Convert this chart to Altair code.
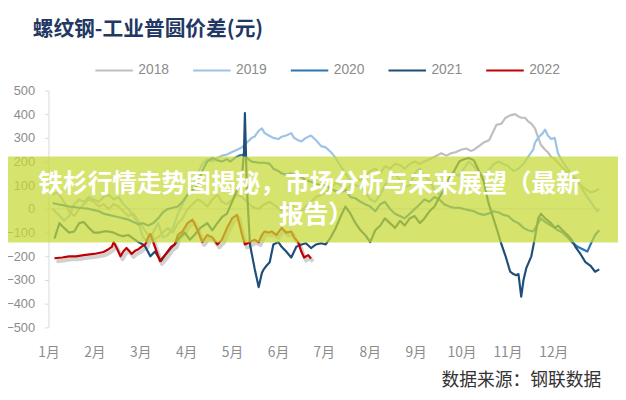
import json
import altair as alt
import pandas as pd

# ---- data (x = months elapsed since 1 Jan, y = spread in 元) ----
years = ["2018", "2019", "2020", "2021", "2022"]
colors = ["#bfbfbf", "#9dc3e6", "#2e75b6", "#1f4e79", "#c00000"]
widths = [2.2, 2.2, 2.5, 2.8, 3.6]
month_labels = ["1月", "2月", "3月", "4月", "5月", "6月", "7月", "8月", "9月", "10月", "11月", "12月"]
y_ticks = [500, 400, 300, 200, 100, 0, -100, -200, -300, -400, -500]

x_2018 = [0.09, 0.2, 0.34, 0.45, 0.56, 0.67, 0.77, 0.88, 0.99, 1.1, 1.2, 1.31, 1.42, 1.53, 1.63, 1.74, 1.85, 1.96,
          2.06, 2.17, 2.28, 2.39, 2.49, 2.6, 2.71, 2.82, 2.92, 3.03, 3.14, 3.25, 3.35, 3.46, 3.57, 3.68, 3.78, 3.89,
          4.0, 4.11, 4.22, 4.32, 4.43, 4.58, 4.71, 4.82, 4.97, 5.08, 5.18, 5.29, 5.4, 5.51, 5.61, 5.72, 5.83, 5.94,
          6.04, 6.15, 6.26, 6.37, 6.47, 6.58, 6.69, 6.8, 6.9, 7.01, 7.12, 7.23, 7.33, 7.44, 7.55, 7.66, 7.76, 7.87,
          7.98, 8.09, 8.19, 8.3, 8.41, 8.56, 8.67, 8.77, 8.88, 8.99, 9.1, 9.2, 9.27, 9.38, 9.48, 9.6, 9.7, 9.76,
          9.87, 9.96, 10.06, 10.17, 10.24, 10.3, 10.38, 10.45, 10.52, 10.6, 10.67, 10.73, 10.82, 10.88, 10.95,
          11.03, 11.1, 11.2, 11.31, 11.42, 11.53, 11.59, 11.7, 11.81, 11.91, 12.0]
y_2018 = [60, 70, 30, -10, -30, 0, 20, 40, 30, 10, 20, 0, 20, 10, -10, -30, -20, -50,
          -80, -110, -130, -120, -100, -80, -100, -60, -40, 0, 20, 40, 30, 10, 40, 60, 30, 20,
          40, 60, 50, 30, 10, 0, 20, 30, 10, -10, 10, 20, 0, -10, 10, 30, 50, 60,
          70, 90, 110, 100, 80, 100, 130, 120, 140, 160, 170, 150, 180, 170, 190, 185, 170, 190,
          200, 190, 200, 210, 220, 235, 225, 235, 240, 250, 255, 245, 250, 265, 280, 290, 330, 355,
          360, 385, 395, 400, 390, 385, 385, 370, 360, 340, 300, 270, 250, 240, 220,
          210, 195, 175, 155, 130, 110, 100, 85, 70, 75, 85]

x_2019 = [0.09, 0.2, 0.34, 0.45, 0.56, 0.67, 0.77, 0.88, 0.99, 1.1, 1.2, 1.31, 1.42, 1.53, 1.63, 1.74, 1.85, 1.96,
          2.06, 2.17, 2.28, 2.39, 2.49, 2.6, 2.71, 2.82, 2.92, 3.03, 3.14, 3.25, 3.35, 3.46, 3.57, 3.68, 3.78, 3.89,
          4.0, 4.11, 4.22, 4.32, 4.43, 4.49, 4.58, 4.65, 4.71, 4.8, 4.9, 5.01, 5.08, 5.18, 5.29, 5.35, 5.44, 5.51,
          5.61, 5.72, 5.83, 5.94, 6.04, 6.15, 6.22, 6.37, 6.47, 6.58, 6.69, 6.8, 6.9, 7.01, 7.12, 7.23, 7.33, 7.44,
          7.55, 7.66, 7.76, 7.87, 7.98, 8.09, 8.19, 8.3, 8.41, 8.52, 8.62, 8.73, 8.84, 8.95, 9.05, 9.16, 9.27, 9.38,
          9.48, 9.58, 9.7, 9.81, 9.91, 10.02, 10.13, 10.24, 10.35, 10.45, 10.56, 10.6, 10.67, 10.77, 10.82, 10.88,
          10.95, 11.03, 11.1, 11.2, 11.31, 11.42, 11.53, 11.64, 11.74, 11.85, 11.96, 12.0]
y_2019 = [0, -20, -50, -30, 20, 40, 30, 50, 40, 30, 50, 60, 40, 50, 20, 0, -30, -60,
          -120, -140, -100, -60, -120, -110, -80, -20, 20, 60, 100, 150, 190, 210, 200, 215, 225, 230,
          240, 250, 260, 280, 300, 305, 330, 340, 320, 310, 300, 295, 305, 310, 320, 300, 290, 285,
          300, 310, 290, 265, 260, 240, 225, 180, 150, 120, 100, 90, 70, 40, 30, 60, 100, 130,
          150, 120, 90, 100, 150, 170, 140, 120, 80, 60, 90, 130, 150, 140, 170, 200, 180, 150,
          140, 160, 190, 200, 190, 180, 160, 170, 190, 220, 250, 280, 300, 320, 335, 310,
          295, 300, 235, 200, 170, 140, 120, 80, 50, 20, -10, 0]

x_2020 = [0.09, 0.2, 0.34, 0.45, 0.56, 0.67, 0.77, 0.88, 0.99, 1.1, 1.2, 1.31, 1.42, 1.53, 1.63, 1.74, 1.85, 1.96,
          2.06, 2.17, 2.28, 2.39, 2.49, 2.6, 2.71, 2.82, 2.92, 3.03, 3.14, 3.25, 3.35, 3.46, 3.57, 3.68, 3.78, 3.89,
          3.96, 4.06, 4.15, 4.26, 4.32, 4.43, 4.58, 4.71, 4.82, 4.9, 5.01, 5.08, 5.18, 5.29, 5.4, 5.51, 5.61, 5.72,
          5.83, 5.94, 6.04, 6.15, 6.26, 6.37, 6.47, 6.58, 6.69, 6.8, 6.9, 7.01, 7.12, 7.23, 7.33, 7.44, 7.55, 7.66,
          7.76, 7.87, 7.98, 8.09, 8.19, 8.3, 8.41, 8.52, 8.62, 8.73, 8.84, 8.95, 9.05, 9.16, 9.27, 9.38, 9.48, 9.58,
          9.7, 9.81, 9.91, 10.02, 10.13, 10.24, 10.35, 10.45, 10.56, 10.67, 10.73, 10.82, 10.95, 11.03, 11.1, 11.2,
          11.31, 11.4, 11.53, 11.64, 11.74, 11.81, 11.91, 12.0]
y_2020 = [25, 20, 15, 10, 8, 5, 3, 0, -5, -10, -20, -25, -30, -35, -40, -45, -55, -65,
          -60, -70, -60, -40, -15, 0, 5, 10, 30, 60, 80, 100, 160, 200, 215, 205, 200, 210,
          200, 215, 225, 230, 215, 200, 195, 195, 190, 170, 160, 150, 145, 150, 140, 135, 120, 115,
          105, 100, 100, 85, 75, 70, 80, 50, 45, 30, 20, 10, -10, 20, 30, 0, -20, -30,
          -40, -20, 0, 20, 40, 30, 50, 40, 20, 10, 5, 5, 0, -5, -10, -20, -25, -20,
          -10, -15, -25, -30, -50, -60, -80, -90, -95, -60, -40, -55, -70, -80, -90, -100,
          -120, -140, -160, -170, -180, -150, -110, -90]

x_2021 = [0.13, 0.24, 0.34, 0.45, 0.56, 0.67, 0.77, 0.88, 0.99, 1.1, 1.2, 1.31, 1.42, 1.53, 1.63, 1.74, 1.85, 1.96,
          2.06, 2.11, 2.22, 2.32, 2.45, 2.56, 2.67, 2.75, 2.86, 2.97, 3.08, 3.18, 3.31, 3.46, 3.57, 3.68, 3.78, 3.89,
          4.0, 4.11, 4.2, 4.26, 4.28, 4.32, 4.39, 4.49, 4.58, 4.65, 4.69, 4.75, 4.82, 4.9, 5.01, 5.08, 5.18, 5.29,
          5.4, 5.51, 5.61, 5.72, 5.83, 5.94, 6.04, 6.15, 6.26, 6.37, 6.47, 6.58, 6.69, 6.8, 6.9, 7.01, 7.12, 7.23,
          7.33, 7.44, 7.55, 7.66, 7.76, 7.87, 7.98, 8.09, 8.19, 8.3, 8.41, 8.52, 8.62, 8.73, 8.84, 8.95, 9.05, 9.16,
          9.27, 9.38, 9.48, 9.58, 9.66, 9.76, 9.87, 9.96, 10.06, 10.13, 10.19, 10.24, 10.3, 10.35, 10.41, 10.52,
          10.6, 10.67, 10.73, 10.82, 10.95, 11.03, 11.1, 11.2, 11.31, 11.4, 11.48, 11.59, 11.7, 11.81, 11.91, 12.0]
y_2021 = [-125, -60, -80, -100, -95, -60, -55, -80, -100, -100, -95, -95, -100, -110, -115, -110, -125, -140,
          -150, -160, -200, -180, -220, -190, -165, -150, -120, -100, -130, -110, -80, -60, -90, -60, -35, -20,
          30, 80, 100, 240, 405, 100, -150, -250, -330, -270, -255, -240, -225, -150, -140, -160, -180, -205,
          -160, -150, -145, -165, -150, -145, -150, -120, -80, -30, 10, -20, -60, -90, -110, -140, -90, -70,
          -40, -60, -80, -50, -70, -40, -30, -60, -40, -10, 10, 50, 80, 130, 160, 200, 210, 215,
          205, 160, 120, 30, -20, -80, -150, -200, -265, -275, -280, -275, -370, -300, -250, -200,
          -120, -40, -20, -40, -60, -80, -70, -90, -110, -130, -160, -190, -225, -240, -265, -255]

x_2022 = [0.13, 0.3, 0.45, 0.6, 0.77, 0.99, 1.2, 1.31, 1.38, 1.42, 1.5, 1.57, 1.63, 1.7, 1.77, 1.81, 1.9, 1.96,
          2.06, 2.11, 2.17, 2.22, 2.32, 2.43, 2.56, 2.67, 2.75, 2.82, 2.92, 3.03, 3.14, 3.25, 3.35, 3.46, 3.57,
          3.68, 3.78, 3.89, 4.0, 4.11, 4.22, 4.28, 4.39, 4.49, 4.58, 4.65, 4.71, 4.8, 4.86, 4.97, 5.08, 5.18,
          5.29, 5.35, 5.44, 5.51, 5.57, 5.66, 5.72]
y_2022 = [-208, -205, -200, -200, -195, -190, -182, -170, -160, -140, -170, -200, -180, -165, -180, -190, -175, -170,
          -155, -150, -120, -105, -160, -220, -190, -160, -150, -110, -95, -60, -45, -90, -140, -110, -120,
          -150, -130, -80, -40, -25, -110, -150, -140, -130, -140, -110, -95, -100, -95, -110, -80, -100,
          -95, -120, -140, -180, -205, -195, -210]

series_x = [x_2018, x_2019, x_2020, x_2021, x_2022]
series_y = [y_2018, y_2019, y_2020, y_2021, y_2022]

rows = []
for yr, xs, ys in zip(years, series_x, series_y):
    for i, (a, b) in enumerate(zip(xs, ys)):
        rows.append({"year": yr, "m": a, "v": b, "i": i})
df = pd.DataFrame(rows)

title_text = "螺纹钢-工业普圆价差(元)"
source_text = "数据来源：钢联数据"
banner_line1 = "铁杉行情走势图揭秘，市场分析与未来展望（最新"
banner_line2 = "报告）"

CJK = "Noto Sans CJK SC"
label_expr = json.dumps(month_labels, ensure_ascii=False) + "[datum.value]"

y_scale = alt.Scale(domain=[-500, 500], nice=False)
y_axis = alt.Axis(values=y_ticks, title=None, grid=False, domainColor="#d9d9d9",
                  tickColor="#d9d9d9", tickSize=4, labelPadding=10, labelOverlap=False,
                  labelFont="Liberation Sans", labelFontSize=13, labelColor="#8c8c8c")

x_enc = alt.X("m:Q", scale=alt.Scale(domain=[0, 12], nice=False, zero=False),
              axis=alt.Axis(values=list(range(12)), labelExpr=label_expr, title=None,
                            domain=False, ticks=False, grid=False, labelFont=CJK,
                            labelFontSize=14, labelColor="#8c8c8c", labelPadding=18,
                            labelFlush=False, labelOverlap=False))
y_enc = alt.Y("v:Q", scale=y_scale, axis=y_axis)

base = alt.Chart(df)

shadow = base.transform_filter(alt.datum.year == "2022").mark_line(
    color="#000000", opacity=0.18, strokeWidth=4, xOffset=2, yOffset=3, strokeJoin="round"
).encode(x=x_enc, y=y_enc, order="i:Q")

zero_rule = alt.Chart(pd.DataFrame({"v": [0]})).mark_rule(color="#d9d9d9", strokeWidth=1).encode(
    y=y_enc)

lines = base.mark_line(strokeJoin="round").encode(
    x=x_enc, y=y_enc, order="i:Q",
    color=alt.Color("year:N", scale=alt.Scale(domain=years, range=colors),
                    legend=alt.Legend(title=None, orient="none", legendX=46, legendY=-41,
                                      direction="horizontal", columns=5, symbolType="stroke",
                                      symbolSize=1444, symbolStrokeWidth=3, columnPadding=19,
                                      labelOffset=4, labelFont="Liberation Sans", labelFontSize=14,
                                      labelColor="#8c8c8c", padding=0)),
    strokeWidth=alt.StrokeWidth("year:N", scale=alt.Scale(domain=years, range=widths), legend=None),
)

title = alt.Chart(pd.DataFrame({"t": [title_text]})).mark_text(
    align="left", baseline="middle", font=CJK, fontSize=21, fontWeight="bold", color="#1f3864"
).encode(x=alt.value(-16), y=alt.value(-61), text="t:N")

source = alt.Chart(pd.DataFrame({"t": [source_text]})).mark_text(
    align="right", baseline="middle", font=CJK, fontSize=18, color="#333333"
).encode(x=alt.value(560), y=alt.value(294), text="t:N")

banner = alt.Chart(pd.DataFrame({"b": [1]})).mark_rect(color="#c6d936", opacity=0.72).encode(
    x=alt.value(-49), x2=alt.value(577), y=alt.value(67), y2=alt.value(154))


def banner_text(txt, x, y):
    return alt.Chart(pd.DataFrame({"t": [txt]})).mark_text(
        align="center", baseline="middle", font=CJK, fontSize=25, fontWeight="bold",
        color="#ffffff").encode(x=alt.value(x), y=alt.value(y), text="t:N")


b1 = banner_text(banner_line1, 264.5, 94.5)
b2 = banner_text(banner_line2, 271, 126)

chart = alt.layer(shadow, zero_rule, lines, title, source, banner, b1, b2).properties(
    width=558, height=240,
    autosize=alt.AutoSizeParams(type="none"),
    padding={"left": 41, "top": 81, "right": 19, "bottom": 71},
).configure_view(stroke=None)

chart.save("out.html", embed_options={"renderer": "svg", "actions": False})
